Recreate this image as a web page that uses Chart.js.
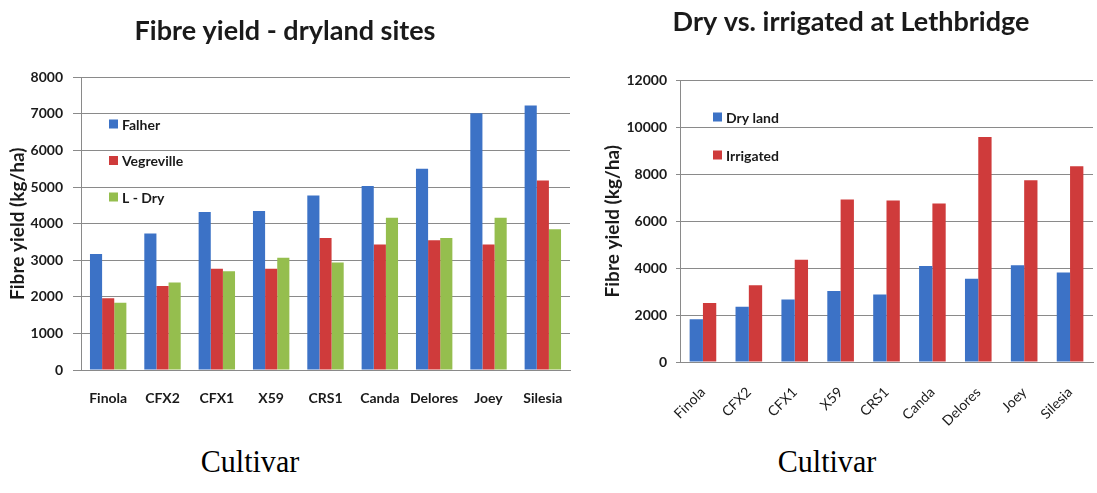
<!DOCTYPE html>
<html>
<head>
<meta charset="utf-8">
<title>Fibre yield</title>
<script src="https://cdn.jsdelivr.net/npm/chart.js@4.4.1/dist/chart.umd.min.js"></script>
<style>
    body { margin: 0; background: #fff; width: 1097px; height: 493px; overflow: hidden; position: relative; }
    .panel { position: absolute; top: 0; }
    #leftPanel { left: 0; width: 578px; height: 410px; }
    #rightPanel { left: 578px; width: 519px; height: 440px; }
    .cultivar {
        position: absolute; top: 446px;
        font-family: "Liberation Serif", "Times New Roman", serif;
        font-size: 31px; line-height: 31px; color: #000;
        transform: translateX(-50%) scaleX(0.97); white-space: nowrap;
    }
</style>
</head>
<body>
<div class="panel" id="leftPanel"><canvas id="drylandChart" width="578" height="410"></canvas></div>
<div class="panel" id="rightPanel"><canvas id="lethbridgeChart" width="519" height="440"></canvas></div>
<div class="cultivar" style="left:250px">Cultivar</div>
<div class="cultivar" style="left:827px">Cultivar</div>

<script>
// --- Data (kg/ha) ---
const cultivars = ['Finola', 'CFX2', 'CFX1', 'X59', 'CRS1', 'Canda', 'Delores', 'Joey', 'Silesia'];

const falher     = [3170, 3730, 4320, 4350, 4770, 5030, 5500, 7020, 7230];
const vegreville = [1960, 2300, 2770, 2770, 3610, 3430, 3550, 3430, 5180];
const lDry       = [1840, 2390, 2700, 3070, 2940, 4160, 3610, 4160, 3850];

const dryLand    = [1820, 2350, 2660, 3030, 2880, 4090, 3550, 4120, 3810];
const irrigated  = [2510, 3270, 4360, 6920, 6880, 6750, 9590, 7740, 8340];

const leftYTicks  = [0, 1000, 2000, 3000, 4000, 5000, 6000, 7000, 8000];
const rightYTicks = [0, 2000, 4000, 6000, 8000, 10000, 12000];

const BLUE = '#3c72c6';
const RED = '#cf3b3b';
const GREEN = '#95be4e';
const GRID = '#8a8a8a';
const INK = '#1a1a1a';
const FONT = 'Lato, "Open Sans", sans-serif';

// legend drawn inside the plot area, one entry per row
const insideLegend = {
    id: 'insideLegend',
    afterDatasetsDraw(chart, args, opts) {
        const ctx = chart.ctx;
        ctx.save();
        ctx.font = 'bold 14px ' + FONT;
        ctx.textBaseline = 'middle';
        chart.data.datasets.forEach((ds, i) => {
            const y = opts.y + i * opts.gap;
            ctx.fillStyle = ds.backgroundColor;
            ctx.fillRect(opts.x, y - 4.5, 9, 9);
            ctx.fillStyle = INK;
            ctx.fillText(ds.label, opts.x + 13, y + 1);
        });
        ctx.restore();
    }
};

// plain numbers on the value axis, no thousands separator
const plainTick = (value) => String(value);

// --- Fibre yield - dryland sites ---
const leftCtx = document.getElementById('drylandChart').getContext('2d');
const drylandChart = new Chart(leftCtx, {
    type: 'bar',
    data: {
        labels: cultivars,
        datasets: [
            { label: 'Falher', data: falher, backgroundColor: BLUE },
            { label: 'Vegreville', data: vegreville, backgroundColor: RED },
            { label: 'L - Dry', data: lDry, backgroundColor: GREEN }
        ]
    },
    options: {
        responsive: false,
        animation: false,
        layout: { padding: { left: 0, right: 8, top: 0, bottom: 0 } },
        datasets: { bar: { categoryPercentage: 0.67, barPercentage: 1 } },
        plugins: {
            legend: { display: false },
            tooltip: { enabled: false },
            title: {
                display: true,
                text: 'Fibre yield - dryland sites',
                color: INK,
                font: { family: FONT, size: 27, weight: 'bold', lineHeight: 1.2 },
                padding: { top: 15, bottom: 30 }
            },
            insideLegend: { x: 109, y: 124, gap: 36.5 }
        },
        scales: {
            x: {
                grid: { display: false },
                border: { display: true, color: GRID, width: 1 },
                ticks: { color: INK, padding: 12, maxRotation: 0, font: { family: FONT, size: 14, weight: 'bold' } },
                afterFit: (scale) => { scale.height = 40; }
            },
            y: {
                min: 0,
                max: 8000,
                afterBuildTicks: (scale) => { scale.ticks = leftYTicks.map(v => ({ value: v })); },
                grid: { color: GRID, lineWidth: 1, tickLength: 8 },
                border: { display: true, color: GRID, width: 1 },
                ticks: { color: INK, padding: 10, callback: plainTick, font: { family: FONT, size: 14, weight: 'bold' } },
                title: {
                    display: true,
                    text: 'Fibre yield (kg/ha)',
                    color: INK,
                    font: { family: FONT, size: 19, weight: 'bold', lineHeight: 1.2 },
                    padding: { top: 6, bottom: 0 }
                },
                afterFit: (scale) => { scale.width = 81; }
            }
        }
    },
    plugins: [insideLegend]
});

// --- Dry vs. irrigated at Lethbridge ---
const rightCtx = document.getElementById('lethbridgeChart').getContext('2d');
const lethbridgeChart = new Chart(rightCtx, {
    type: 'bar',
    data: {
        labels: cultivars,
        datasets: [
            { label: 'Dry land', data: dryLand, backgroundColor: BLUE },
            { label: 'Irrigated', data: irrigated, backgroundColor: RED }
        ]
    },
    options: {
        responsive: false,
        animation: false,
        layout: { padding: { left: 31, right: 4, top: 0, bottom: 0 } },
        datasets: { bar: { categoryPercentage: 0.58, barPercentage: 1 } },
        plugins: {
            legend: { display: false },
            tooltip: { enabled: false },
            title: {
                display: true,
                text: 'Dry vs. irrigated at Lethbridge',
                color: INK,
                font: { family: FONT, size: 27, weight: 'bold', lineHeight: 1.2 },
                padding: { top: 6, bottom: 42 }
            },
            insideLegend: { x: 135, y: 117, gap: 38 }
        },
        scales: {
            x: {
                grid: { display: false },
                border: { display: true, color: GRID, width: 1 },
                ticks: { color: INK, padding: 14, minRotation: 45, maxRotation: 45, font: { family: FONT, size: 14 } },
                afterFit: (scale) => { scale.height = 78; }
            },
            y: {
                min: 0,
                max: 12000,
                afterBuildTicks: (scale) => { scale.ticks = rightYTicks.map(v => ({ value: v })); },
                grid: { color: GRID, lineWidth: 1, tickLength: 4 },
                border: { display: true, color: GRID, width: 1 },
                ticks: { color: INK, padding: 9, callback: plainTick, font: { family: FONT, size: 14, weight: 'bold' } },
                title: {
                    display: true,
                    text: 'Fibre yield (kg/ha)',
                    color: INK,
                    font: { family: FONT, size: 19, weight: 'bold', lineHeight: 1.2 },
                    padding: { top: -8, bottom: 0 }
                },
                afterFit: (scale) => { scale.width = 71; }
            }
        }
    },
    plugins: [insideLegend]
});
</script>
</body>
</html>
